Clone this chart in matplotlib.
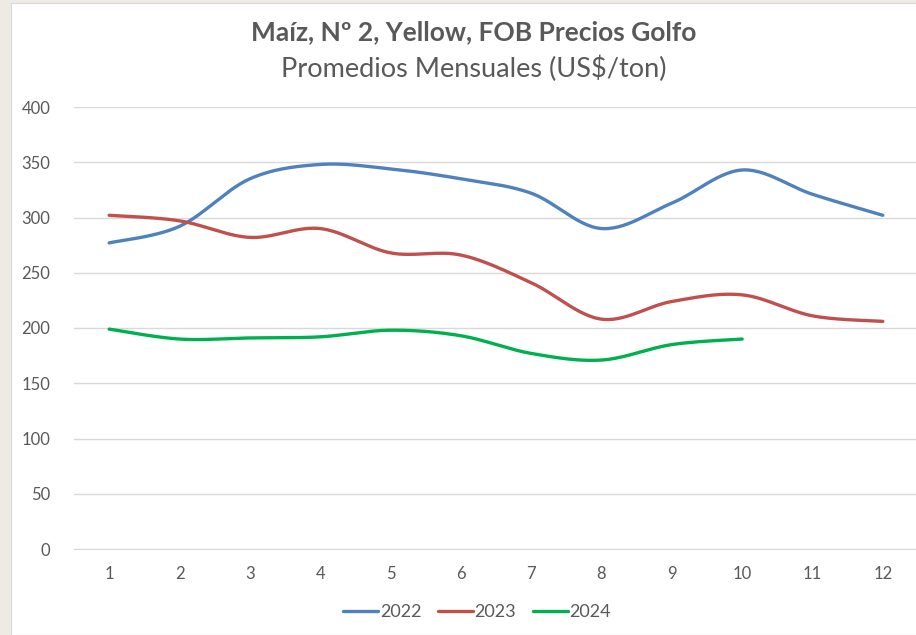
import numpy as np
import matplotlib.pyplot as plt
from matplotlib.patches import Rectangle

months = list(range(1, 13))
v2022 = [277, 292, 335, 348, 344, 335, 322, 290, 313, 343, 321, 302]
v2023 = [302, 297, 282, 290, 268, 266, 241, 208, 224, 230, 211, 206]
v2024 = [199, 190, 191, 192, 198, 193, 177, 171, 185, 190]

series = [("2022", v2022, "#4F81BD"), ("2023", v2023, "#C0504D"), ("2024", v2024, "#00B050")]


# Excel-like smoothed line (cubic Bezier, Catmull-Rom control points)
def smooth(x, y, n=30):
    x = np.asarray(x, float)
    y = np.asarray(y, float)
    xs, ys = [x[0]], [y[0]]
    for i in range(len(x) - 1):
        p0 = np.array([x[max(i - 1, 0)], y[max(i - 1, 0)]])
        p1 = np.array([x[i], y[i]])
        p2 = np.array([x[i + 1], y[i + 1]])
        p3 = np.array([x[min(i + 2, len(x) - 1)], y[min(i + 2, len(x) - 1)]])
        c1 = p1 + (p2 - p0) / 6
        c2 = p2 - (p3 - p1) / 6
        t = np.linspace(0, 1, n)[1:, None]
        pts = ((1 - t) ** 3) * p1 + 3 * ((1 - t) ** 2) * t * c1 + 3 * (1 - t) * t ** 2 * c2 + t ** 3 * p2
        xs.extend(pts[:, 0])
        ys.extend(pts[:, 1])
    return xs, ys


plt.rcParams['font.family'] = ['Lato', 'DejaVu Sans']
txt = "#595959"

fig = plt.figure(figsize=(9.16, 6.35), dpi=100, facecolor="#EEEBE4")
fig.patches.append(Rectangle((11 / 916, 0), 1, 1 - 3 / 635, transform=fig.transFigure,
                             facecolor="white", edgecolor="#D9D9D9", lw=0.8, zorder=-1))

ax = fig.add_axes([74 / 916, (635 - 549) / 635, (918 - 74) / 916, (549 - 107) / 635])
ax.set_facecolor("none")
ax.set_zorder(2)

for name, vals, col in series:
    xs, ys = smooth(months[:len(vals)], vals)
    ax.plot(xs, ys, color=col, lw=2.4, label=name, solid_capstyle="round")

ax.set_xlim(0.5, 12.5)
ax.set_ylim(0, 400)
ax.set_yticks(range(0, 401, 50))
ax.set_xticks(months)
ax.grid(axis="y", color="#D9D9D9", lw=1)
ax.set_axisbelow(True)
for s in ["top", "right", "left"]:
    ax.spines[s].set_visible(False)
ax.spines["bottom"].set_color("#D9D9D9")
ax.tick_params(length=0, labelsize=12, colors=txt)
ax.tick_params(axis="y", pad=17)
ax.tick_params(axis="x", pad=12)

fig.text(474 / 916, 1 - 32 / 635, "Maíz, Nº 2, Yellow, FOB Precios Golfo", ha="center", va="center",
         fontsize=19, fontweight="bold", color=txt)
fig.text(474 / 916, 1 - 69 / 635, "Promedios Mensuales (US$/ton)", ha="center", va="center",
         fontsize=19.5, color=txt)

fig.legend(loc="center", bbox_to_anchor=(477 / 916, 1 - 612 / 635), ncol=3, frameon=False,
           fontsize=13, labelcolor=txt, handlelength=1.95, handletextpad=0.1, columnspacing=0.9)

fig.savefig("out.png", dpi=100, facecolor=fig.get_facecolor())
